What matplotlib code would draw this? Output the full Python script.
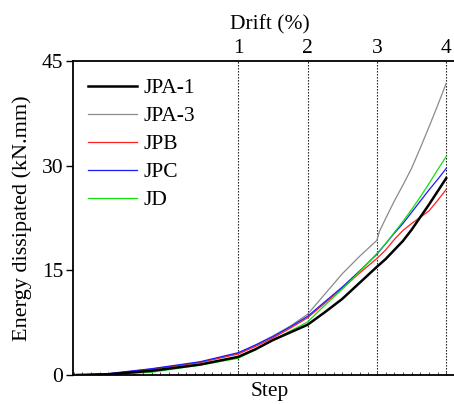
import numpy as np
import matplotlib
matplotlib.use("Agg")
import matplotlib.pyplot as plt

plt.rcParams["font.family"] = ["Liberation Serif", "DejaVu Serif"]
plt.rcParams["font.size"] = 15.5

# steps (drift 1..4 at steps 20, 28, 36, 44)
steps = [1.4, 5, 10, 15.6, 20, 22, 24, 26, 28, 30, 32, 34, 36, 37, 38, 39, 40, 41, 42, 43, 44]
jpa1 = [0, 0.1, 0.6, 1.5, 2.6, 3.7, 5.0, 6.1, 7.2, 9.0, 10.9, 13.2, 15.5, 16.6, 17.9, 19.2, 20.8, 22.6, 24.4, 26.3, 28.2]
jpb = [0, 0.15, 0.85, 1.8, 3.0, 4.1, 5.3, 6.7, 8.2, 10.3, 12.4, 14.6, 16.7, 17.9, 19.4, 20.7, 21.7, 22.6, 23.5, 25.0, 26.6]
jpc = [0, 0.2, 0.9, 1.9, 3.2, 4.3, 5.5, 6.9, 8.4, 10.5, 12.6, 14.9, 17.3, 18.8, 20.3, 21.7, 23.3, 24.9, 26.5, 28.0, 29.6]
jd = [0, 0.05, 0.4, 1.4, 2.4, 3.6, 5.0, 6.3, 7.6, 10.0, 12.3, 14.8, 17.4, 18.8, 20.4, 22.0, 23.7, 25.5, 27.4, 29.4, 31.3]

# JPA-3 has a small jump right after drift 3
steps_jpa3 = [1.4, 5, 10, 15.6, 20, 22, 24, 26, 28, 30, 32, 34, 36, 36.3, 37, 38, 39, 40, 41, 42, 43, 44]
jpa3 = [0, 0.15, 0.8, 1.8, 3.1, 4.3, 5.6, 7.0, 8.7, 11.6, 14.5, 17.0, 19.3, 20.6, 22.4, 24.9, 27.2, 29.6, 32.5, 35.5, 38.6, 41.8]

drift_steps = [20, 28, 36, 44]
drift_labels = ["1", "2", "3", "4"]
y_ticks = [0, 15, 30, 45]

fig = plt.figure(figsize=(4.54, 4.04), dpi=100)
ax = fig.add_axes([0.1608, 0.0718, 0.8678, 0.7772])

ax.plot(steps, jpa1, color="black", lw=1.8, label="JPA-1", zorder=5)
ax.plot(steps_jpa3, jpa3, color="#8a8a8a", lw=0.9, label="JPA-3")
ax.plot(steps, jpb, color="#ff2020", lw=0.9, label="JPB")
ax.plot(steps, jpc, color="#1a1aff", lw=0.9, label="JPC")
ax.plot(steps, jd, color="#10e010", lw=0.9, label="JD")

for s in drift_steps:
    ax.axvline(s, color="black", ls=(0, (1.2, 1.5)), lw=0.8, zorder=1)

ax.set_xlim(0.93, 46.4)
ax.set_ylim(0, 45)
ax.set_yticks(y_ticks)
ax.tick_params(axis="y", direction="out", length=5, width=1, pad=2)
ax.set_xticks(np.arange(1, 47, 1))
ax.tick_params(axis="x", direction="in", length=2, width=0.5, labelbottom=False)

for side in ["left", "bottom", "top"]:
    ax.spines[side].set_linewidth(1.3)
ax.spines["right"].set_visible(False)

top = ax.secondary_xaxis("top")
top.set_xticks(drift_steps)
top.set_xticklabels(drift_labels)
top.tick_params(length=0, pad=2)
top.spines["top"].set_visible(False)
top.set_xlabel("Drift (%)", labelpad=7)

ax.set_xlabel("Step", labelpad=5)
ax.set_ylabel("Energy dissipated (kN.mm)", fontsize=16, labelpad=7)

ax.legend(loc="upper left", bbox_to_anchor=(0.038, 0.945), frameon=False,
          borderaxespad=0, borderpad=0, handlelength=2.3, handletextpad=0.28,
          labelspacing=0.37)

fig.savefig("out.png", dpi=100)
